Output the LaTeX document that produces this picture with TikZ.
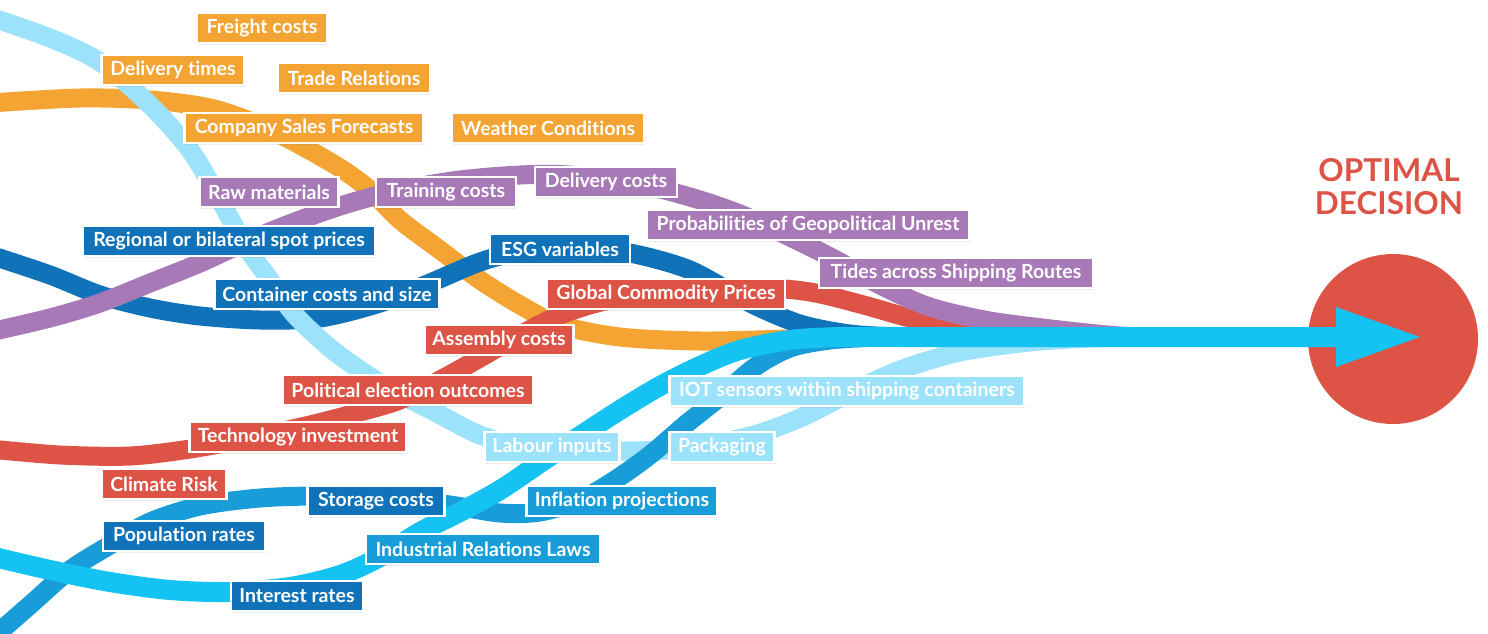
\documentclass[tikz,border=0pt]{standalone}
\usepackage{fontspec}
\setmainfont{Lato}[Ligatures=NoCommon]
\usetikzlibrary{shadows}
\definecolor{corange}{HTML}{F4A433}
\definecolor{cpurple}{HTML}{A779B6}
\definecolor{cdblue}{HTML}{1072B8}
\definecolor{cred}{HTML}{DD5446}
\definecolor{clblue}{HTML}{9CE2FA}
\definecolor{cmblue}{HTML}{189DD8}
\definecolor{ccyan}{HTML}{14C3F1}
\begin{document}
\begin{tikzpicture}[x=1pt,y=-1pt,
  strand/.style={line width=19pt, line cap=butt, line join=round},
  box/.style={fill=#1, draw=white, line width=2.5pt, text=white,
    font=\fontsize{19.5}{22}\selectfont\bfseries, minimum height=30pt, inner sep=0pt,
    drop shadow={shadow xshift=1pt, shadow yshift=-1.5pt, opacity=0.15}},
  title/.style={text=cred, font=\fontsize{31.5}{33}\selectfont\bfseries, align=center}
]
\useasboundingbox (0,0) rectangle (1488,633);

% decision circle
\node[circle, fill=cred, minimum size=170pt, inner sep=0pt] (decision) at (1393,339) {};
\node[title] (titletext) at (1389,187) {OPTIMAL\\DECISION};

% strands
\draw[strand, corange] plot[smooth] coordinates {(-10,103) (80,98) (150,100) (210,108) (260,125) (300,145) (340,168) (370,190) (400,220) (440,250) (480,280) (520,305) (560,325) (620,337) (700,341) (790,339) (860,337) (900,337)};
\draw[strand, cdblue] plot[smooth] coordinates {(-10,255) (50,275) (100,295) (150,308) (200,316) (260,320) (320,318) (380,303) (430,283) (480,262) (520,252) (580,248) (630,253) (690,270) (750,303) (800,324) (850,334) (900,337) (940,337)};
\draw[strand, clblue] plot[smooth] coordinates {(-10,17) (50,38) (100,62) (150,105) (190,150) (220,200) (245,245) (270,280) (295,315) (335,352) (385,386) (435,412) (480,435) (530,448) (600,451) (680,449) (750,436) (800,418) (850,393) (900,370) (960,352) (1030,342) (1090,338) (1130,337)};
\draw[strand, cred] plot[smooth] coordinates {(-10,449) (60,455) (130,456) (190,449) (250,438) (310,425) (360,412) (400,400) (440,380) (480,358) (520,335) (560,315) (610,300) (680,292) (760,288) (810,292) (860,304) (910,318) (960,328) (1020,334) (1080,337) (1120,337)};
\draw[strand, cpurple] plot[smooth] coordinates {(-10,332) (50,318) (100,303) (150,283) (200,263) (250,240) (300,220) (350,203) (400,190) (460,180) (520,175) (570,175) (630,182) (690,197) (740,214) (790,237) (840,262) (880,285) (930,307) (990,321) (1060,330) (1120,336) (1170,337)};
\draw[strand, cmblue] plot[smooth] coordinates {(-10,640) (30,605) (70,570) (110,545) (150,522) (200,506) (260,498) (320,496) (390,498) (450,505) (500,513) (540,512) (580,500) (615,480) (650,455) (685,425) (720,397) (755,367) (790,348) (830,340) (880,337) (920,337)};

% main arrow
\draw[line width=20pt, ccyan, line join=round] plot[smooth] coordinates {(-10,556) (50,570) (110,582) (170,590) (230,592) (290,587) (340,575) (380,557) (420,532) (460,512) (500,490) (540,463) (580,436) (620,410) (660,386) (700,366) (740,350) (790,340) (840,337) (900,337)} -- (1340,337);
\coordinate (tip) at (1420,337);
\fill[ccyan] (1336,307) -- (tip) -- (1336,367) -- cycle;

% boxes
\node[box=corange, minimum width=130pt] (freight) at (262,28) {Freight costs};
\node[box=corange, minimum width=143pt] (deltimes) at (173,70) {Delivery times};
\node[box=corange, minimum width=152pt] (trade) at (354,78) {Trade Relations};
\node[box=corange, minimum width=239pt] (sales) at (304,128) {Company Sales Forecasts};
\node[box=corange, minimum width=192pt] (weather) at (548,128) {Weather Conditions};
\node[box=cpurple, minimum width=139pt] (raw) at (269,192) {Raw materials};
\node[box=cpurple, minimum width=140pt] (training) at (446,192) {Training costs};
\node[box=cpurple, minimum width=142pt] (delcosts) at (606,182) {Delivery costs};
\node[box=cpurple, minimum width=323pt] (prob) at (808,225) {Probabilities of Geopolitical Unrest};
\node[box=cdblue, minimum width=293pt] (regional) at (229,241) {Regional or bilateral spot prices};
\node[box=cdblue, minimum width=140pt] (esg) at (560,249) {ESG variables};
\node[box=cpurple, minimum width=274pt] (tides) at (956,273) {Tides across Shipping Routes};
\node[box=cdblue, minimum width=225pt] (container) at (327,294) {Container costs and size};
\node[box=cred, minimum width=238pt] (global) at (666,294) {Global Commodity Prices};
\node[box=cred, minimum width=149pt] (assembly) at (499,340) {Assembly costs};
\node[box=cred, minimum width=250pt] (political) at (408,390) {Political election outcomes};
\node[box=clblue, minimum width=355pt] (iot) at (847,391) {IOT sensors within shipping containers};
\node[box=cred, minimum width=217pt] (tech) at (298,437) {Technology investment};
\node[box=clblue, minimum width=135pt] (labour) at (552,447) {Labour inputs};
\node[box=clblue, minimum width=105pt] (packaging) at (722,447) {Packaging};
\node[box=cred, minimum width=125pt] (climate) at (164,484) {Climate Risk};
\node[box=cdblue, minimum width=137pt] (storage) at (376,501) {Storage costs};
\node[box=cmblue, minimum width=191pt] (inflation) at (622,501) {Inflation projections};
\node[box=cdblue, minimum width=162pt] (population) at (184,536) {Population rates};
\node[box=cmblue, minimum width=234pt] (industrial) at (483,549) {Industrial Relations Laws};
\node[box=cdblue, minimum width=132pt] (interest) at (297,596) {Interest rates};
\end{tikzpicture}
\end{document}
